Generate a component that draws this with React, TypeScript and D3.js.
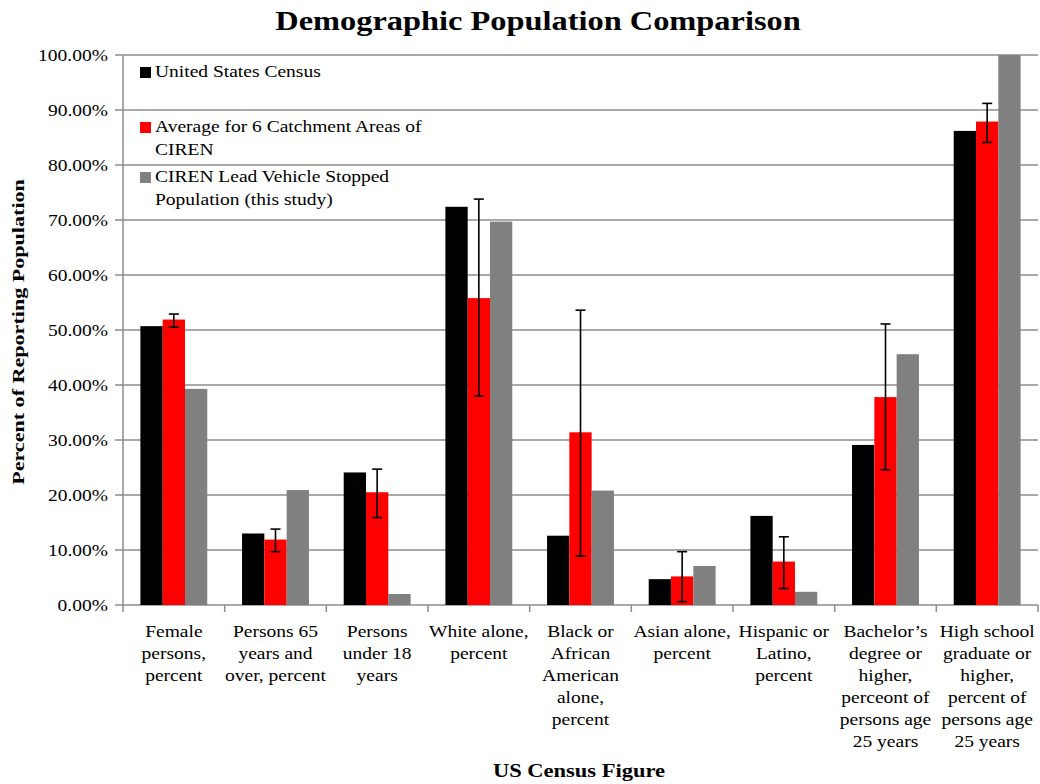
import React from 'react'
import * as d3 from 'd3'

const categories = [
  ['Female', 'persons,', 'percent'],
  ['Persons 65', 'years and', 'over, percent'],
  ['Persons', 'under 18', 'years'],
  ['White alone,', 'percent'],
  ['Black or', 'African', 'American', 'alone,', 'percent'],
  ['Asian alone,', 'percent'],
  ['Hispanic or', 'Latino,', 'percent'],
  ['Bachelor\u2019s', 'degree or', 'higher,', 'perceont of', 'persons age', '25 years'],
  ['High school', 'graduate or', 'higher,', 'percent of', 'persons age', '25 years'],
]
const censusValues = [50.7, 13.0, 24.1, 72.4, 12.6, 4.7, 16.2, 29.1, 86.2]
const cirenAverage = [51.9, 11.9, 20.5, 55.8, 31.4, 5.2, 7.9, 37.8, 87.9]
const cirenErrLow = [50.5, 9.7, 15.9, 38.0, 8.9, 0.6, 3.0, 24.6, 84.1]
const cirenErrHigh = [52.9, 13.8, 24.7, 73.8, 53.6, 9.7, 12.4, 51.1, 91.2]
const studyValues = [39.3, 20.9, 2.0, 69.7, 20.8, 7.1, 2.4, 45.6, 100.0]
const seriesNames = [
  ['United States Census'],
  ['Average for 6 Catchment Areas of', 'CIREN'],
  ['CIREN Lead Vehicle Stopped', 'Population (this study)'],
]
const yTicks = [0, 10, 20, 30, 40, 50, 60, 70, 80, 90, 100]

const W = 1040
const H = 784
const margin = { top: 55, right: 2, bottom: 179, left: 123 }
const colors = ['#000000', '#ff0000', '#808080']
const font = 'Liberation Serif, Times New Roman, serif'
const SX = 1.22 // the source text is drawn wide

// text squeezed/stretched horizontally around its anchor
function WideText({ x, y, lines, size, anchor = 'start', bold = false, lh = 22, sx = SX }: any) {
  return (
    <g transform={`translate(${x},${y}) scale(${sx},1)`}>
      <text textAnchor={anchor} fontSize={size} fontWeight={bold ? 'bold' : 'normal'} fontFamily={font}>
        {lines.map((l: string, j: number) => (
          <tspan key={j} x={0} dy={j === 0 ? 0 : lh}>{l}</tspan>
        ))}
      </text>
    </g>
  )
}

export default function App() {
  const innerW = W - margin.left - margin.right
  const innerH = H - margin.top - margin.bottom
  const idx = categories.map((_, i) => String(i))

  const x = d3.scaleBand().domain(idx).range([0, innerW]).paddingInner(0).paddingOuter(0)
  const bw = x.bandwidth()
  const xs = d3.scaleBand().domain(['0', '1', '2']).range([bw * 0.171, bw * 0.829])
  const y = d3.scaleLinear().domain([0, 100]).range([innerH, 0])
  const series = [censusValues, cirenAverage, studyValues]

  return (
    <svg width={W} height={H} style={{ position: 'absolute', left: 0, top: 0, background: '#fff' }}>
      <WideText x={538} y={30} lines={['Demographic Population Comparison']} size={27} anchor="middle" bold sx={1.2} />
      <g transform={`translate(${margin.left},${margin.top})`}>
        {yTicks.map(t => (
          <g key={t}>
            <line x1={0} x2={innerW} y1={y(t)} y2={y(t)} stroke="#8c8c8c" strokeWidth={1.5} />
            <line x1={-8} x2={0} y1={y(t)} y2={y(t)} stroke="#8c8c8c" strokeWidth={1.5} />
            <WideText x={-15} y={y(t) + 6} lines={[`${t.toFixed(2)}%`]} size={16} anchor="end" />
          </g>
        ))}
        <line x1={0} x2={0} y1={0} y2={innerH} stroke="#8c8c8c" strokeWidth={1.5} />
        {d3.range(categories.length + 1).map(i => (
          <line key={i} x1={i * bw} x2={i * bw} y1={innerH} y2={innerH + 7} stroke="#8c8c8c" strokeWidth={1.5} />
        ))}
        {series.map((vals, s) =>
          vals.map((v, i) => (
            <rect key={`${s}-${i}`} x={(x(String(i)) ?? 0) + (xs(String(s)) ?? 0)} y={y(v)} width={xs.bandwidth()} height={innerH - y(v)} fill={colors[s]} />
          ))
        )}
        {cirenAverage.map((_, i) => {
          const cx = (x(String(i)) ?? 0) + (xs('1') ?? 0) + xs.bandwidth() / 2
          return (
            <g key={i} stroke="#000" strokeWidth={1.6}>
              <line x1={cx} x2={cx} y1={y(cirenErrHigh[i])} y2={y(cirenErrLow[i])} />
              <line x1={cx - 5} x2={cx + 5} y1={y(cirenErrHigh[i])} y2={y(cirenErrHigh[i])} />
              <line x1={cx - 5} x2={cx + 5} y1={y(cirenErrLow[i])} y2={y(cirenErrLow[i])} />
            </g>
          )
        })}
        {categories.map((lines, i) => (
          <WideText key={i} x={(x(String(i)) ?? 0) + bw / 2} y={innerH + 32} lines={lines} size={16} anchor="middle" lh={22} />
        ))}
        {seriesNames.map((lines, s) => (
          <g key={s} transform={`translate(17,${[22, 77, 127][s]})`}>
            <rect x={0} y={-10} width={11} height={11} fill={colors[s]} />
            <WideText x={15} y={0} lines={lines} size={16} lh={23} />
          </g>
        ))}
      </g>
      <g transform="translate(24,332) rotate(-90)">
        <WideText x={0} y={0} lines={['Percent of Reporting Population']} size={17} anchor="middle" bold sx={1.3} />
      </g>
      <WideText x={579} y={777} lines={['US Census Figure']} size={18} anchor="middle" bold sx={1.25} />
    </svg>
  )
}
